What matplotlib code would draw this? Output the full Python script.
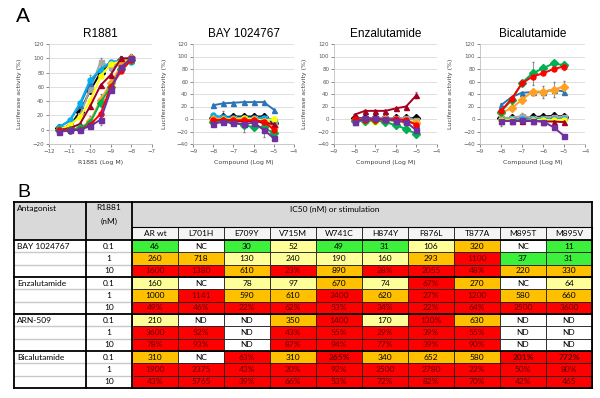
import matplotlib.pyplot as plt
from matplotlib.patches import Rectangle

# ---- panel A data: luciferase activity (%) per AR variant ----
variants = ['AR wt', 'L701H', 'E709Y', 'V715M', 'W741C', 'H874Y', 'F876L', 'T877A', 'M895T', 'M895V']
colors = ['#000000', '#a6a6a6', '#2e75b6', '#00b0f0', '#ffff00',
          '#ffa020', '#a50021', '#00b050', '#ff0000', '#7030a0']
markers = ['D', 's', '^', 'o', 'o', 'D', '^', 'D', 'o', 's']

r1881_x = [-11.5, -11, -10.5, -10, -9.5, -9, -8.5, -8]
r1881_y = [
    [2, 5, 25, 55, 80, 92, 97, 100],
    [3, 5, 20, 57, 95, 88, 97, 100],
    [4, 12, 35, 65, 85, 93, 97, 97],
    [4, 13, 37, 70, 84, 95, 97, 95],
    [0, 6, 18, 40, 75, 92, 96, 98],
    [0, 0, 2, 12, 42, 65, 90, 100],
    [0, 2, 8, 33, 62, 77, 100, 100],
    [0, 0, 2, 10, 38, 60, 85, 98],
    [0, -1, 0, 7, 22, 60, 82, 98],
    [-3, -1, 0, 5, 14, 55, 88, 100],
]

cmpd_x = [-8, -7.5, -7, -6.5, -6, -5.5, -5]
bay_y = [
    [2, 3, 4, 4, 4, 4, -6],
    [1, 2, 2, 2, 2, 2, -3],
    [22, 25, 26, 27, 27, 27, 15],
    [6, 3, 2, 2, 1, 2, -1],
    [0, 0, 0, 1, 0, -3, 0],
    [0, -1, -1, -1, -2, -5, -12],
    [-2, -2, -3, -4, -3, -6, -8],
    [-4, -3, -5, -10, -13, -13, -23],
    [-2, -1, -2, -2, -2, -4, -17],
    [-8, -4, -7, -8, -6, -17, -31],
]
enz_y = [
    [2, 1, 2, 1, 1, 1, 1],
    [0, 1, 2, 2, 1, 2, -2],
    [-5, -1, 0, 0, -1, -3, -8],
    [-2, -2, -1, -2, -3, -4, -5],
    [-3, -4, -4, -3, -2, -3, -5],
    [-2, -2, -1, 0, -2, -4, -7],
    [7, 13, 13, 13, 17, 20, 38],
    [-3, -3, -2, -5, -10, -16, -24],
    [0, -1, -1, -1, 0, -2, -9],
    [-5, 1, 1, 0, -3, -5, -18],
]
bic_y = [
    [1, 1, 0, 3, 4, 5, 4],
    [2, 2, 5, 2, 2, 4, 3],
    [22, 35, 42, 43, 43, 47, 44],
    [0, 0, 0, 0, 0, 0, 0],
    [-1, -1, -3, -2, -1, -2, -1],
    [10, 17, 31, 44, 44, 47, 52],
    [-3, -3, -3, -3, -4, -4, -5],
    [12, 30, 58, 73, 81, 89, 86],
    [13, 32, 57, 68, 73, 80, 84],
    [-3, -3, -2, -3, -4, -13, -27],
]

# visible error bars: (series index, point index, +/- value)
r1881_err = [(1, 4, 6), (1, 5, 6), (3, 3, 6), (5, 3, 7), (5, 4, 8), (5, 6, 8),
             (9, 4, 8), (0, 7, 6), (6, 6, 3)]
bay_err = [(0, 1, 10), (7, 3, 10), (9, 5, 12), (6, 0, 6), (3, 6, 4)]
enz_err = [(6, 6, 5), (7, 4, 5), (7, 6, 4), (9, 6, 4), (0, 4, 5)]
bic_err = [(7, 3, 18), (5, 5, 12), (5, 6, 9), (2, 4, 10), (1, 2, 5),
           (9, 0, 8), (8, 6, 5), (2, 0, 3), (3, 3, 6)]

# ---- panel B data ----
antagonists = ['BAY 1024767', 'Enzalutamide', 'ARN-509', 'Bicalutamide']
r1881_nm = ['0.1', '1', '10']
ic50 = [
    ['46', 'NC', '30', '52', '49', '31', '106', '320', 'NC', '11'],
    ['260', '718', '130', '240', '190', '160', '293', '1100', '37', '31'],
    ['1600', '1380', '610', '23%', '890', '28%', '2055', '48%', '220', '330'],
    ['160', 'NC', '78', '97', '670', '74', '67%', '270', 'NC', '64'],
    ['1000', '1141', '590', '610', '2400', '620', '27%', '1200', '580', '660'],
    ['49%', '46%', '22%', '62%', '53%', '34%', '22%', '64%', '2500', '3600'],
    ['210', 'ND', 'ND', '350', '1400', '170', '130%', '630', 'ND', 'ND'],
    ['3600', '52%', 'ND', '43%', '55%', '29%', '39%', '55%', 'ND', 'ND'],
    ['78%', '93%', 'ND', '87%', '94%', '77%', '39%', '90%', 'ND', 'ND'],
    ['310', 'NC', '63%', '310', '265%', '340', '652', '580', '201%', '772%'],
    ['1900', '2375', '43%', '20%', '92%', '2500', '2780', '22%', '50%', '80%'],
    ['43%', '5765', '39%', '66%', '53%', '72%', '82%', '70%', '42%', '465'],
]
# colour class per cell: G green, Y light yellow, O orange, R red, W white
ic50_class = ['GWGYGGYOWG', 'OOYYYYORGG', 'RRORORRROO',
              'YWYYOYROWY', 'OROORORROO', 'RRRRRRRRRR',
              'YWWORYROWW', 'RRWRRRRRWW', 'RRWRRRRRWW',
              'OWROROOORR', 'RRRRRRRRRR', 'RRRRRRRRRR']
bold_cells = ['265%', '201%', '772%']

fill = {'G': '#3cf03c', 'Y': '#ffff99', 'O': '#ffc000', 'R': '#ff0000', 'W': '#ffffff'}

W, H = 600, 398
fig = plt.figure(figsize=(6, 3.98), dpi=100)

# ---------- table (pixel coordinates) ----------
tb = fig.add_axes([0, 0, 1, 1])
tb.set_xlim(0, W)
tb.set_ylim(H, 0)
tb.axis('off')
tfont = 'Lato'

x0, x1, x2 = 14, 86, 132
cw = 46
y_top, y_h1, y_h2 = 202, 227, 240
rh = 12.33
x_end = x2 + cw * len(variants)
y_end = y_h2 + rh * len(ic50)

# header
tb.add_patch(Rectangle((x0, y_top), x2 - x0, y_h2 - y_top, fc='#d9d9d9', ec='none'))
tb.add_patch(Rectangle((x2, y_top), x_end - x2, y_h1 - y_top, fc='#d9d9d9', ec='none'))
tb.text(x0 + 3, y_top + 6, 'Antagonist', fontsize=6, family=tfont, va='center')
tb.text((x1 + x2) / 2, y_top + 6, 'R1881', fontsize=6, family=tfont, ha='center', va='center')
tb.text((x1 + x2) / 2, y_top + 19, '(nM)', fontsize=6, family=tfont, ha='center', va='center')
tb.text(290, y_top + 7, 'IC50 (nM) or stimulation', fontsize=6, family=tfont, va='center')
for j, v in enumerate(variants):
    cx = x2 + cw * j
    tb.add_patch(Rectangle((cx, y_h1), cw, y_h2 - y_h1, fc='#f4f4f4', ec='#202020', lw=0.6))
    tb.text(cx + cw / 2, (y_h1 + y_h2) / 2, v, fontsize=6, family=tfont, ha='center', va='center')

# body
for i, row in enumerate(ic50):
    ry = y_h2 + rh * i
    if i % 3 == 0:
        tb.text(x0 + 3, ry + rh / 2, antagonists[i // 3], fontsize=6, family=tfont, va='center')
    tb.text((x1 + x2) / 2, ry + rh / 2, r1881_nm[i % 3], fontsize=6, family=tfont,
            ha='center', va='center')
    if i % 3 != 0:
        tb.plot([x0, x2], [ry, ry], color='#c8c8c8', lw=1.0)
    for j, val in enumerate(row):
        c = ic50_class[i][j]
        cx = x2 + cw * j
        tb.add_patch(Rectangle((cx, ry), cw, rh, fc=fill[c], ec='#202020', lw=0.6))
        tb.text(cx + cw / 2, ry + rh / 2, val, fontsize=6, family=tfont, ha='center', va='center',
                color='#5c0000' if c == 'R' else 'black',
                fontweight='bold' if val in bold_cells else 'normal')

# heavy rules
for k in range(len(antagonists) + 1):
    yy = y_h2 + rh * 3 * k
    tb.plot([x0, x_end], [yy, yy], color='black', lw=1.3)
tb.plot([x0, x_end], [y_top, y_top], color='black', lw=1.3)
tb.plot([x2, x_end], [y_h1, y_h1], color='black', lw=0.8)
for xx in (x0, x1, x2, x_end):
    tb.plot([xx, xx], [y_top, y_end], color='black', lw=1.3)

fig.text(16 / W, 1 - 22 / H, 'A', fontsize=15, family='Liberation Sans')
fig.text(17 / W, 1 - 197 / H, 'B', fontsize=14, family='Liberation Sans')


# ---------- dose-response charts ----------
def dose_panel(left, right, title, xs, ys, errs, xlim, ylim, xlabel):
    ax = fig.add_axes([left / W, 1 - 144 / H, (right - left) / W, 100 / H])
    for a, b, e in errs:
        ax.errorbar(xs[b], ys[a][b], yerr=e, color='#808080', lw=0.6, capsize=1, zorder=1)
    for k in range(len(ys)):
        ax.plot(xs, ys[k], color=colors[k], marker=markers[k], markersize=3.6,
                lw=1.4, zorder=2 + k)
    ax.set_xlim(*xlim)
    ax.set_ylim(*ylim)
    ax.set_xticks(range(xlim[0], xlim[1] + 1))
    ax.set_yticks(range(ylim[0], ylim[1] + 1, 20))
    ax.grid(axis='y', color='#d9d9d9', lw=0.6)
    ax.set_axisbelow(True)
    for s in ('top', 'right'):
        ax.spines[s].set_visible(False)
    for s in ('left', 'bottom'):
        ax.spines[s].set_color('#bfbfbf')
        ax.spines[s].set_linewidth(0.6)
    ax.tick_params(labelsize=4, colors='#595959', length=2, width=0.5, pad=1.5)
    ax.set_title(title, fontsize=8.5, family='Liberation Sans', pad=5)
    ax.set_xlabel(xlabel, fontsize=4.5, color='#404040')
    ax.set_ylabel('Luciferase activity (%)', fontsize=4.5, color='#404040')
    ax.yaxis.set_label_coords(-0.26, 0.5)
    ax.xaxis.set_label_coords(0.5, -0.16)
    return ax


dose_panel(49, 152, 'R1881', r1881_x, r1881_y, r1881_err, (-12, -7), (-20, 120), 'R1881 (Log M)')
dose_panel(193, 294, 'BAY 1024767', cmpd_x, bay_y, bay_err, (-9, -4), (-40, 120), 'Compound (Log M)')
dose_panel(334, 437, 'Enzalutamide', cmpd_x, enz_y, enz_err, (-9, -4), (-40, 120), 'Compound (Log M)')
dose_panel(480, 585, 'Bicalutamide', cmpd_x, bic_y, bic_err, (-9, -4), (-40, 120), 'Compound (Log M)')

fig.savefig('out.png', dpi=100)
